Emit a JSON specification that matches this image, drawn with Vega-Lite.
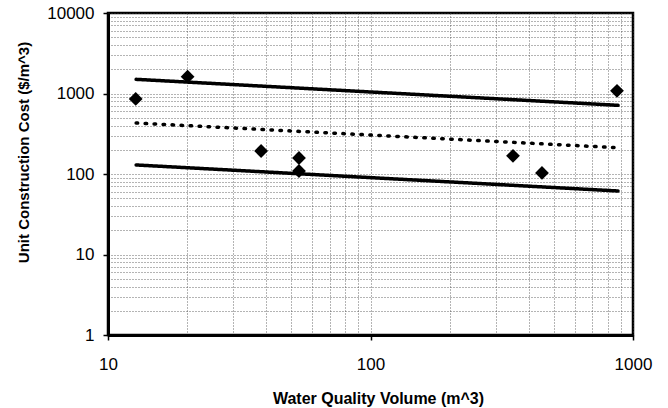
{
  "$schema": "https://vega.github.io/schema/vega-lite/v6.json",
  "autosize": {"type": "none"},
  "width": 525,
  "height": 322,
  "padding": {"left": 108, "top": 13, "right": 35, "bottom": 73},
  "background": "white",
  "config": {
    "view": {"stroke": "black", "strokeWidth": 2.5},
    "font": "Liberation Sans"
  },
  "datasets": {
    "points": [
      {"volume": 12.75, "cost": 855},
      {"volume": 20.1, "cost": 1618},
      {"volume": 38.3, "cost": 193},
      {"volume": 53.4, "cost": 158},
      {"volume": 53.4, "cost": 109},
      {"volume": 349, "cost": 168},
      {"volume": 450, "cost": 103},
      {"volume": 869, "cost": 1080}
    ],
    "lines": [
      {"series": "upper", "style": "solid", "volume": 12.8, "cost": 1500},
      {"series": "upper", "style": "solid", "volume": 877, "cost": 713},
      {"series": "mean", "style": "dotted", "volume": 12.8, "cost": 430},
      {"series": "mean", "style": "dotted", "volume": 877, "cost": 212},
      {"series": "lower", "style": "solid", "volume": 12.8, "cost": 129.5},
      {"series": "lower", "style": "solid", "volume": 877, "cost": 61.5}
    ]
  },
  "layer": [
    {
      "data": {"name": "points"},
      "mark": {"type": "point", "shape": "diamond", "filled": true, "color": "black", "size": 190, "opacity": 1},
      "encoding": {
        "x": {
          "field": "volume", "type": "quantitative",
          "scale": {"type": "log", "domain": [10, 1000], "nice": false},
          "axis": {
            "title": "Water Quality Volume (m^3)",
            "format": "d",
            "values": [10, 20, 30, 40, 50, 60, 70, 80, 90, 100, 200, 300, 400, 500, 600, 700, 800, 900, 1000],
            "labelExpr": "indexof([10,100,1000], datum.value) >= 0 ? datum.label : ''",
            "labelOverlap": false,
            "labelFlush": false,
            "labelFont": "Liberation Sans",
            "labelFontSize": 17,
            "labelColor": "black",
            "labelPadding": 16,
            "tickSize": 5,
            "tickColor": "black",
            "tickWidth": 1.5,
            "tickOpacity": {"condition": {"test": "indexof([10,100,1000], datum.value) >= 0", "value": 1}, "value": 0},
            "domainColor": "black",
            "domainWidth": 3,
            "grid": true,
            "gridColor": "#444",
            "gridDash": [1, 2],
            "gridWidth": 1,
            "gridOpacity": 0.8,
            "titleFont": "Liberation Sans",
            "titleFontSize": 16,
            "titleFontWeight": "bold",
            "titleColor": "black",
            "titlePadding": 18,
            "titleX": 270
          }
        },
        "y": {
          "field": "cost", "type": "quantitative",
          "scale": {"type": "log", "domain": [1, 10000], "nice": false},
          "axis": {
            "title": "Unit Construction Cost ($/m^3)",
            "format": "d",
            "values": [1, 2, 3, 4, 5, 6, 7, 8, 9, 10, 20, 30, 40, 50, 60, 70, 80, 90, 100, 200, 300, 400, 500, 600, 700, 800, 900, 1000, 2000, 3000, 4000, 5000, 6000, 7000, 8000, 9000, 10000],
            "labelExpr": "indexof([1,10,100,1000,10000], datum.value) >= 0 ? datum.label : ''",
            "labelOverlap": false,
            "labelFlush": false,
            "labelFont": "Liberation Sans",
            "labelFontSize": 17,
            "labelColor": "black",
            "labelPadding": 9,
            "tickSize": 5,
            "tickColor": "black",
            "tickWidth": 1.5,
            "tickOpacity": {"condition": {"test": "indexof([1,10,100,1000,10000], datum.value) >= 0", "value": 1}, "value": 0},
            "domainColor": "black",
            "domainWidth": 3,
            "grid": true,
            "gridColor": "#444",
            "gridDash": [1, 2],
            "gridWidth": 1,
            "gridOpacity": 0.8,
            "titleFont": "Liberation Sans",
            "titleFontSize": 15,
            "titleFontWeight": "bold",
            "titleColor": "black",
            "titleX": -77,
            "titleY": 139
          }
        }
      }
    },
    {
      "data": {"name": "lines"},
      "mark": {"type": "line", "color": "black", "strokeWidth": 3.5, "strokeCap": "round"},
      "encoding": {
        "x": {"field": "volume", "type": "quantitative"},
        "y": {"field": "cost", "type": "quantitative"},
        "detail": {"field": "series"},
        "strokeDash": {
          "field": "style", "type": "nominal",
          "scale": {"domain": ["solid", "dotted"], "range": [[1, 0], [1.5, 7.5]]},
          "legend": null
        }
      }
    }
  ]
}
